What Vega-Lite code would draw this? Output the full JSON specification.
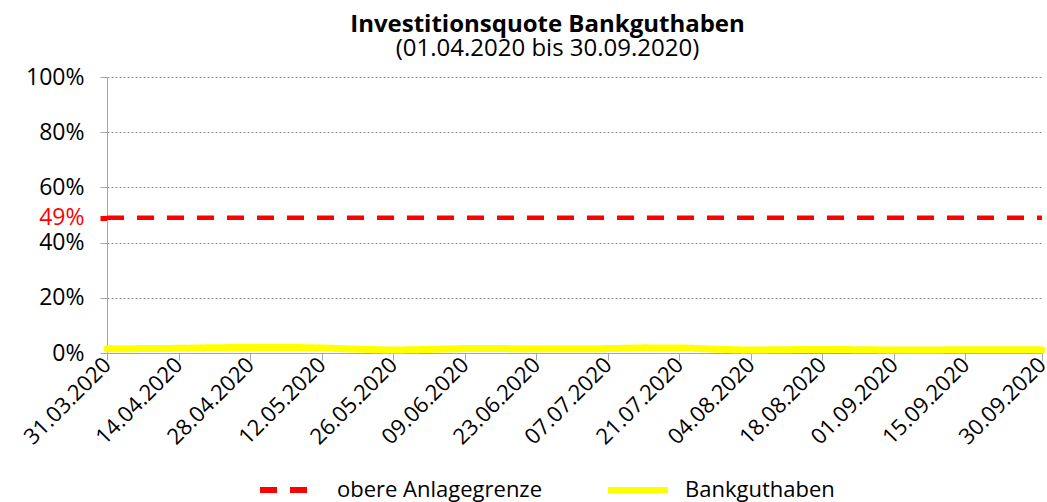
{
  "$schema": "https://vega.github.io/schema/vega-lite/v6.json",
  "width": 935,
  "height": 276,
  "autosize": "none",
  "padding": {"left": 107, "top": 77, "right": 5, "bottom": 149},
  "background": "white",
  "config": {
    "font": "Open Sans",
    "view": {"stroke": null}
  },
  "title": {
    "text": "Investitionsquote Bankguthaben",
    "subtitle": "(01.04.2020 bis 30.09.2020)",
    "font": "Open Sans",
    "fontSize": 24,
    "fontWeight": "bold",
    "color": "black",
    "subtitleFont": "Open Sans",
    "subtitleFontSize": 24,
    "subtitleColor": "black",
    "subtitlePadding": 0,
    "anchor": "middle",
    "dx": -27,
    "offset": 5
  },
  "data": {
    "values": [
      {"date": "2020-03-31", "value": 0.49, "series": "obere Anlagegrenze"},
      {"date": "2020-09-30", "value": 0.49, "series": "obere Anlagegrenze"},
      {"date": "2020-03-31", "value": 0.015, "series": "Bankguthaben"},
      {"date": "2020-04-07", "value": 0.016, "series": "Bankguthaben"},
      {"date": "2020-04-14", "value": 0.017, "series": "Bankguthaben"},
      {"date": "2020-04-21", "value": 0.019, "series": "Bankguthaben"},
      {"date": "2020-04-28", "value": 0.020, "series": "Bankguthaben"},
      {"date": "2020-05-05", "value": 0.020, "series": "Bankguthaben"},
      {"date": "2020-05-12", "value": 0.018, "series": "Bankguthaben"},
      {"date": "2020-05-19", "value": 0.014, "series": "Bankguthaben"},
      {"date": "2020-05-26", "value": 0.011, "series": "Bankguthaben"},
      {"date": "2020-06-02", "value": 0.013, "series": "Bankguthaben"},
      {"date": "2020-06-09", "value": 0.016, "series": "Bankguthaben"},
      {"date": "2020-06-16", "value": 0.016, "series": "Bankguthaben"},
      {"date": "2020-06-23", "value": 0.015, "series": "Bankguthaben"},
      {"date": "2020-06-30", "value": 0.015, "series": "Bankguthaben"},
      {"date": "2020-07-07", "value": 0.016, "series": "Bankguthaben"},
      {"date": "2020-07-14", "value": 0.018, "series": "Bankguthaben"},
      {"date": "2020-07-21", "value": 0.018, "series": "Bankguthaben"},
      {"date": "2020-07-28", "value": 0.014, "series": "Bankguthaben"},
      {"date": "2020-08-04", "value": 0.011, "series": "Bankguthaben"},
      {"date": "2020-08-11", "value": 0.012, "series": "Bankguthaben"},
      {"date": "2020-08-18", "value": 0.013, "series": "Bankguthaben"},
      {"date": "2020-08-25", "value": 0.012, "series": "Bankguthaben"},
      {"date": "2020-09-01", "value": 0.011, "series": "Bankguthaben"},
      {"date": "2020-09-08", "value": 0.011, "series": "Bankguthaben"},
      {"date": "2020-09-15", "value": 0.012, "series": "Bankguthaben"},
      {"date": "2020-09-22", "value": 0.012, "series": "Bankguthaben"},
      {"date": "2020-09-30", "value": 0.012, "series": "Bankguthaben"}
    ]
  },
  "encoding": {
    "x": {
      "field": "date",
      "type": "temporal",
      "scale": {"type": "utc", "domain": [{"year": 2020, "month": 3, "date": 31, "utc": true}, {"year": 2020, "month": 9, "date": 30, "utc": true}]},
      "axis": {
        "title": null,
        "grid": false,
        "values": [
          {"year": 2020, "month": 3, "date": 31, "utc": true},
          {"year": 2020, "month": 4, "date": 14, "utc": true},
          {"year": 2020, "month": 4, "date": 28, "utc": true},
          {"year": 2020, "month": 5, "date": 12, "utc": true},
          {"year": 2020, "month": 5, "date": 26, "utc": true},
          {"year": 2020, "month": 6, "date": 9, "utc": true},
          {"year": 2020, "month": 6, "date": 23, "utc": true},
          {"year": 2020, "month": 7, "date": 7, "utc": true},
          {"year": 2020, "month": 7, "date": 21, "utc": true},
          {"year": 2020, "month": 8, "date": 4, "utc": true},
          {"year": 2020, "month": 8, "date": 18, "utc": true},
          {"year": 2020, "month": 9, "date": 1, "utc": true},
          {"year": 2020, "month": 9, "date": 15, "utc": true},
          {"year": 2020, "month": 9, "date": 30, "utc": true}
        ],
        "labelExpr": "utcFormat(datum.value, '%d.%m.%Y')",
        "labelAngle": -45,
        "labelAlign": "right",
        "labelBaseline": "middle",
        "labelFontSize": 22,
        "labelColor": "black",
        "labelFlush": false,
        "labelOverlap": false,
        "labelPadding": 1,
        "domainColor": "#a6a6a6",
        "tickColor": "#a6a6a6",
        "tickSize": 7
      }
    },
    "y": {
      "field": "value",
      "type": "quantitative",
      "scale": {"domain": [0, 1], "nice": false},
      "axis": {
        "title": null,
        "values": [0, 0.2, 0.4, 0.49, 0.6, 0.8, 1],
        "format": ".0%",
        "labelFontSize": 23,
        "labelColor": {"condition": {"test": "datum.value == 0.49", "value": "#ff0000"}, "value": "black"},
        "labelPadding": 16,
        "grid": true,
        "gridColor": "#8c8c8c",
        "gridDash": [2, 2],
        "gridOpacity": {"condition": {"test": "datum.value == 0.49 || datum.value == 0", "value": 0}, "value": 1},
        "domainColor": "#a6a6a6",
        "tickColor": {"condition": {"test": "datum.value == 0.49", "value": "#ff0000"}, "value": "#a6a6a6"},
        "tickWidth": {"condition": {"test": "datum.value == 0.49", "value": 5}, "value": 1},
        "tickSize": 7
      }
    },
    "color": {
      "field": "series",
      "type": "nominal",
      "scale": {"domain": ["obere Anlagegrenze", "Bankguthaben"], "range": ["#ff0000", "#ffff00"]},
      "legend": {
        "title": null,
        "orient": "none",
        "legendX": 150,
        "legendY": 380,
        "direction": "horizontal",
        "symbolType": "stroke",
        "symbolSize": 3600,
        "symbolStrokeWidth": 6,
        "labelFont": "Open Sans",
        "labelFontSize": 22,
        "labelColor": "black",
        "labelOffset": 14,
        "columnPadding": 53,
        "labelLimit": 300
      }
    },
    "strokeDash": {
      "field": "series",
      "type": "nominal",
      "scale": {"domain": ["obere Anlagegrenze", "Bankguthaben"], "range": [[17, 13], [1, 0]]}
    }
  },
  "layer": [
    {
      "transform": [{"filter": "datum.series == 'obere Anlagegrenze'"}],
      "mark": {"type": "line", "strokeWidth": 4.5}
    },
    {
      "transform": [{"filter": "datum.series == 'Bankguthaben'"}],
      "mark": {"type": "line", "strokeWidth": 7, "strokeCap": "round", "interpolate": "monotone"}
    }
  ]
}
